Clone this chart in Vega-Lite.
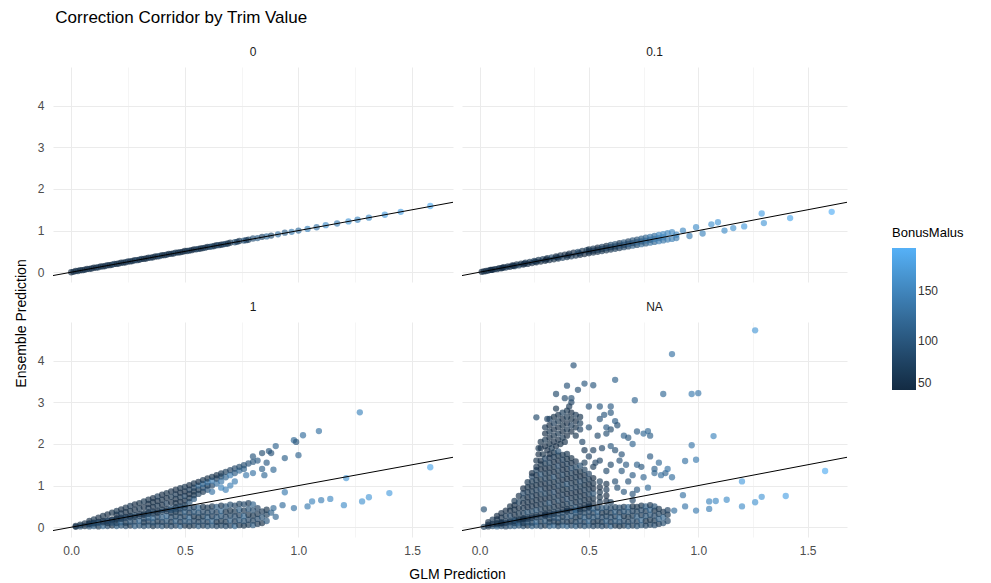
{
"$schema":"https://vega.github.io/schema/vega-lite/v6.json",
"background":"white",
"padding":{"left":14,"top":9,"right":0,"bottom":0},
"title":{"text":"Correction Corridor by Trim Value","anchor":"start","dx":41,"fontSize":17,"fontWeight":"normal","color":"#000000","font":"Liberation Sans","offset":19},
"datasets":{
"line":[{"glm":-0.08,"ens":-0.08},{"glm":1.68,"ens":1.68}],
"t0":[{"glm":0.0,"ens":0.0,"bm":50},{"glm":0.01,"ens":0.01,"bm":55},{"glm":0.02,"ens":0.03,"bm":50},{"glm":0.03,"ens":0.03,"bm":60},{"glm":0.04,"ens":0.05,"bm":52},{"glm":0.05,"ens":0.05,"bm":50},{"glm":0.06,"ens":0.06,"bm":57},{"glm":0.07,"ens":0.08,"bm":50},{"glm":0.08,"ens":0.08,"bm":62},{"glm":0.09,"ens":0.09,"bm":50},{"glm":0.1,"ens":0.11,"bm":54},{"glm":0.11,"ens":0.11,"bm":50},{"glm":0.12,"ens":0.12,"bm":68},{"glm":0.13,"ens":0.14,"bm":50},{"glm":0.14,"ens":0.14,"bm":58},{"glm":0.15,"ens":0.15,"bm":50},{"glm":0.16,"ens":0.17,"bm":64},{"glm":0.17,"ens":0.17,"bm":50},{"glm":0.18,"ens":0.18,"bm":55},{"glm":0.19,"ens":0.2,"bm":72},{"glm":0.2,"ens":0.2,"bm":50},{"glm":0.21,"ens":0.21,"bm":60},{"glm":0.22,"ens":0.23,"bm":50},{"glm":0.23,"ens":0.23,"bm":56},{"glm":0.24,"ens":0.24,"bm":50},{"glm":0.25,"ens":0.26,"bm":66},{"glm":0.26,"ens":0.26,"bm":50},{"glm":0.27,"ens":0.27,"bm":58},{"glm":0.28,"ens":0.29,"bm":50},{"glm":0.29,"ens":0.29,"bm":76},{"glm":0.3,"ens":0.3,"bm":50},{"glm":0.31,"ens":0.32,"bm":62},{"glm":0.32,"ens":0.32,"bm":50},{"glm":0.33,"ens":0.33,"bm":55},{"glm":0.34,"ens":0.35,"bm":50},{"glm":0.35,"ens":0.35,"bm":68},{"glm":0.36,"ens":0.36,"bm":50},{"glm":0.37,"ens":0.38,"bm":57},{"glm":0.38,"ens":0.38,"bm":50},{"glm":0.39,"ens":0.39,"bm":80},{"glm":0.4,"ens":0.41,"bm":52},{"glm":0.41,"ens":0.41,"bm":50},{"glm":0.42,"ens":0.42,"bm":64},{"glm":0.43,"ens":0.44,"bm":50},{"glm":0.44,"ens":0.44,"bm":58},{"glm":0.45,"ens":0.45,"bm":50},{"glm":0.46,"ens":0.47,"bm":70},{"glm":0.47,"ens":0.47,"bm":50},{"glm":0.48,"ens":0.48,"bm":60},{"glm":0.49,"ens":0.49,"bm":50},{"glm":0.5,"ens":0.51,"bm":50},{"glm":0.51,"ens":0.51,"bm":58},{"glm":0.52,"ens":0.52,"bm":66},{"glm":0.53,"ens":0.53,"bm":50},{"glm":0.54,"ens":0.55,"bm":50},{"glm":0.55,"ens":0.55,"bm":62},{"glm":0.56,"ens":0.56,"bm":74},{"glm":0.57,"ens":0.57,"bm":50},{"glm":0.58,"ens":0.58,"bm":55},{"glm":0.59,"ens":0.59,"bm":66},{"glm":0.6,"ens":0.61,"bm":50},{"glm":0.61,"ens":0.61,"bm":70},{"glm":0.62,"ens":0.62,"bm":85},{"glm":0.63,"ens":0.63,"bm":55},{"glm":0.64,"ens":0.65,"bm":60},{"glm":0.65,"ens":0.65,"bm":80},{"glm":0.66,"ens":0.66,"bm":50},{"glm":0.67,"ens":0.67,"bm":65},{"glm":0.68,"ens":0.68,"bm":78},{"glm":0.69,"ens":0.69,"bm":58},{"glm":0.7,"ens":0.71,"bm":56},{"glm":0.72,"ens":0.72,"bm":90},{"glm":0.73,"ens":0.73,"bm":70},{"glm":0.74,"ens":0.75,"bm":62},{"glm":0.76,"ens":0.76,"bm":100},{"glm":0.77,"ens":0.77,"bm":75},{"glm":0.78,"ens":0.78,"bm":70},{"glm":0.8,"ens":0.81,"bm":95},{"glm":0.82,"ens":0.82,"bm":110},{"glm":0.84,"ens":0.85,"bm":80},{"glm":0.86,"ens":0.86,"bm":120},{"glm":0.88,"ens":0.88,"bm":90},{"glm":0.91,"ens":0.91,"bm":130},{"glm":0.94,"ens":0.95,"bm":115},{"glm":0.97,"ens":0.97,"bm":140},{"glm":1.0,"ens":1.0,"bm":125},{"glm":1.04,"ens":1.04,"bm":150},{"glm":1.08,"ens":1.08,"bm":135},{"glm":1.12,"ens":1.13,"bm":160},{"glm":1.17,"ens":1.17,"bm":145},{"glm":1.22,"ens":1.22,"bm":170},{"glm":1.26,"ens":1.26,"bm":155},{"glm":1.31,"ens":1.31,"bm":160},{"glm":1.38,"ens":1.38,"bm":175},{"glm":1.45,"ens":1.45,"bm":180},{"glm":1.58,"ens":1.59,"bm":190}],
"t01":[{"glm":0.01,"ens":0.01,"bm":50},{"glm":0.02,"ens":0.02,"bm":52},{"glm":0.03,"ens":0.03,"bm":50},{"glm":0.04,"ens":0.04,"bm":58},{"glm":0.05,"ens":0.055,"bm":50},{"glm":0.06,"ens":0.057,"bm":55},{"glm":0.07,"ens":0.075,"bm":50},{"glm":0.08,"ens":0.074,"bm":62},{"glm":0.09,"ens":0.098,"bm":50},{"glm":0.1,"ens":0.093,"bm":57},{"glm":0.11,"ens":0.12,"bm":50},{"glm":0.12,"ens":0.111,"bm":66},{"glm":0.13,"ens":0.141,"bm":50},{"glm":0.14,"ens":0.13,"bm":55},{"glm":0.15,"ens":0.163,"bm":50},{"glm":0.16,"ens":0.146,"bm":60},{"glm":0.17,"ens":0.185,"bm":50},{"glm":0.18,"ens":0.164,"bm":70},{"glm":0.19,"ens":0.207,"bm":52},{"glm":0.2,"ens":0.183,"bm":50},{"glm":0.21,"ens":0.228,"bm":64},{"glm":0.22,"ens":0.2,"bm":50},{"glm":0.23,"ens":0.25,"bm":56},{"glm":0.24,"ens":0.219,"bm":50},{"glm":0.25,"ens":0.272,"bm":75},{"glm":0.26,"ens":0.237,"bm":50},{"glm":0.27,"ens":0.293,"bm":58},{"glm":0.28,"ens":0.255,"bm":50},{"glm":0.29,"ens":0.315,"bm":68},{"glm":0.3,"ens":0.273,"bm":50},{"glm":0.31,"ens":0.337,"bm":60},{"glm":0.32,"ens":0.291,"bm":50},{"glm":0.33,"ens":0.358,"bm":80},{"glm":0.34,"ens":0.31,"bm":52},{"glm":0.35,"ens":0.38,"bm":50},{"glm":0.36,"ens":0.328,"bm":62},{"glm":0.37,"ens":0.402,"bm":50},{"glm":0.38,"ens":0.346,"bm":72},{"glm":0.39,"ens":0.424,"bm":50},{"glm":0.4,"ens":0.364,"bm":58},{"glm":0.41,"ens":0.445,"bm":50},{"glm":0.42,"ens":0.382,"bm":66},{"glm":0.43,"ens":0.467,"bm":50},{"glm":0.44,"ens":0.4,"bm":56},{"glm":0.45,"ens":0.489,"bm":85},{"glm":0.46,"ens":0.419,"bm":50},{"glm":0.47,"ens":0.51,"bm":62},{"glm":0.48,"ens":0.437,"bm":50},{"glm":0.49,"ens":0.532,"bm":70},{"glm":0.055,"ens":0.055,"bm":50},{"glm":0.105,"ens":0.105,"bm":50},{"glm":0.155,"ens":0.155,"bm":54},{"glm":0.205,"ens":0.205,"bm":50},{"glm":0.255,"ens":0.255,"bm":58},{"glm":0.305,"ens":0.305,"bm":50},{"glm":0.355,"ens":0.355,"bm":62},{"glm":0.405,"ens":0.405,"bm":50},{"glm":0.455,"ens":0.455,"bm":66},
{"glm":0.5,"ens":0.455,"bm":50},{"glm":0.5,"ens":0.5,"bm":58},{"glm":0.5,"ens":0.545,"bm":52},{"glm":0.52,"ens":0.473,"bm":60},{"glm":0.52,"ens":0.52,"bm":50},{"glm":0.52,"ens":0.567,"bm":66},{"glm":0.54,"ens":0.491,"bm":55},{"glm":0.54,"ens":0.54,"bm":70},{"glm":0.54,"ens":0.589,"bm":50},{"glm":0.56,"ens":0.51,"bm":64},{"glm":0.56,"ens":0.56,"bm":52},{"glm":0.56,"ens":0.61,"bm":75},{"glm":0.58,"ens":0.528,"bm":58},{"glm":0.58,"ens":0.58,"bm":80},{"glm":0.58,"ens":0.632,"bm":55},{"glm":0.6,"ens":0.546,"bm":66},{"glm":0.6,"ens":0.6,"bm":60},{"glm":0.6,"ens":0.654,"bm":85},{"glm":0.62,"ens":0.564,"bm":70},{"glm":0.62,"ens":0.62,"bm":58},{"glm":0.62,"ens":0.676,"bm":90},{"glm":0.64,"ens":0.582,"bm":62},{"glm":0.64,"ens":0.64,"bm":95},{"glm":0.64,"ens":0.698,"bm":66},{"glm":0.66,"ens":0.601,"bm":80},{"glm":0.66,"ens":0.66,"bm":68},{"glm":0.66,"ens":0.719,"bm":100},{"glm":0.68,"ens":0.619,"bm":72},{"glm":0.68,"ens":0.68,"bm":105},{"glm":0.68,"ens":0.741,"bm":75},{"glm":0.7,"ens":0.637,"bm":110},{"glm":0.7,"ens":0.7,"bm":78},{"glm":0.7,"ens":0.763,"bm":95},{"glm":0.72,"ens":0.655,"bm":85},{"glm":0.72,"ens":0.72,"bm":115},{"glm":0.72,"ens":0.785,"bm":90},{"glm":0.74,"ens":0.673,"bm":120},{"glm":0.74,"ens":0.74,"bm":95},{"glm":0.74,"ens":0.807,"bm":110},{"glm":0.76,"ens":0.692,"bm":100},{"glm":0.76,"ens":0.76,"bm":125},{"glm":0.76,"ens":0.828,"bm":115},{"glm":0.78,"ens":0.71,"bm":130},{"glm":0.78,"ens":0.78,"bm":105},{"glm":0.78,"ens":0.85,"bm":135},{"glm":0.8,"ens":0.728,"bm":120},{"glm":0.8,"ens":0.8,"bm":140},{"glm":0.8,"ens":0.872,"bm":125},{"glm":0.82,"ens":0.746,"bm":145},{"glm":0.82,"ens":0.82,"bm":130},{"glm":0.82,"ens":0.894,"bm":150},{"glm":0.84,"ens":0.764,"bm":135},{"glm":0.84,"ens":0.84,"bm":145},{"glm":0.84,"ens":0.916,"bm":155},{"glm":0.86,"ens":0.783,"bm":140},{"glm":0.86,"ens":0.937,"bm":150},{"glm":0.88,"ens":0.8,"bm":145},{"glm":0.88,"ens":0.96,"bm":155},{"glm":0.9,"ens":0.82,"bm":140},{"glm":0.9,"ens":0.9,"bm":150},
{"glm":0.93,"ens":1.0,"bm":155},{"glm":0.96,"ens":0.87,"bm":145},{"glm":0.99,"ens":1.08,"bm":160},{"glm":1.02,"ens":0.93,"bm":150},{"glm":1.06,"ens":1.15,"bm":165},{"glm":1.09,"ens":1.2,"bm":170},{"glm":1.12,"ens":1.0,"bm":160},{"glm":1.16,"ens":1.06,"bm":165},{"glm":1.21,"ens":1.1,"bm":175},{"glm":1.29,"ens":1.41,"bm":180},{"glm":1.3,"ens":1.18,"bm":170},{"glm":1.42,"ens":1.3,"bm":185},{"glm":1.61,"ens":1.45,"bm":192}],
"t1":[{"glm":0.02,"ens":0.03,"bm":50},{"glm":0.04,"ens":0.06,"bm":52},{"glm":0.06,"ens":0.09,"bm":50},{"glm":0.08,"ens":0.09,"bm":55},{"glm":0.08,"ens":0.15,"bm":50},{"glm":0.1,"ens":0.11,"bm":50},{"glm":0.1,"ens":0.19,"bm":58},{"glm":0.12,"ens":0.13,"bm":60},{"glm":0.12,"ens":0.23,"bm":50},{"glm":0.14,"ens":0.15,"bm":50},{"glm":0.14,"ens":0.27,"bm":55},{"glm":0.16,"ens":0.17,"bm":62},{"glm":0.16,"ens":0.31,"bm":50},{"glm":0.18,"ens":0.19,"bm":50},{"glm":0.18,"ens":0.35,"bm":52},{"glm":0.2,"ens":0.21,"bm":55},{"glm":0.2,"ens":0.3,"bm":50},{"glm":0.2,"ens":0.39,"bm":60},{"glm":0.22,"ens":0.23,"bm":50},{"glm":0.22,"ens":0.33,"bm":65},{"glm":0.22,"ens":0.43,"bm":50},{"glm":0.24,"ens":0.25,"bm":58},{"glm":0.24,"ens":0.36,"bm":50},{"glm":0.24,"ens":0.47,"bm":55},{"glm":0.26,"ens":0.27,"bm":50},{"glm":0.26,"ens":0.39,"bm":52},{"glm":0.26,"ens":0.51,"bm":62},{"glm":0.28,"ens":0.29,"bm":70},{"glm":0.28,"ens":0.42,"bm":50},{"glm":0.28,"ens":0.55,"bm":50},{"glm":0.3,"ens":0.32,"bm":50},{"glm":0.3,"ens":0.45,"bm":58},{"glm":0.3,"ens":0.58,"bm":52},{"glm":0.32,"ens":0.34,"bm":55},{"glm":0.32,"ens":0.48,"bm":50},{"glm":0.32,"ens":0.62,"bm":60},{"glm":0.34,"ens":0.36,"bm":50},{"glm":0.34,"ens":0.46,"bm":62},{"glm":0.34,"ens":0.56,"bm":50},{"glm":0.34,"ens":0.66,"bm":55},{"glm":0.36,"ens":0.38,"bm":75},{"glm":0.36,"ens":0.49,"bm":50},{"glm":0.36,"ens":0.6,"bm":52},{"glm":0.36,"ens":0.7,"bm":50},{"glm":0.38,"ens":0.4,"bm":50},{"glm":0.38,"ens":0.52,"bm":58},{"glm":0.38,"ens":0.63,"bm":50},{"glm":0.38,"ens":0.74,"bm":65},{"glm":0.4,"ens":0.42,"bm":60},{"glm":0.4,"ens":0.54,"bm":50},{"glm":0.4,"ens":0.66,"bm":55},{"glm":0.4,"ens":0.78,"bm":50},{"glm":0.42,"ens":0.44,"bm":50},{"glm":0.42,"ens":0.57,"bm":68},{"glm":0.42,"ens":0.7,"bm":50},{"glm":0.42,"ens":0.82,"bm":52},{"glm":0.44,"ens":0.46,"bm":80},{"glm":0.44,"ens":0.6,"bm":50},{"glm":0.44,"ens":0.73,"bm":60},{"glm":0.44,"ens":0.86,"bm":50},{"glm":0.46,"ens":0.48,"bm":50},{"glm":0.46,"ens":0.58,"bm":55},{"glm":0.46,"ens":0.68,"bm":50},{"glm":0.46,"ens":0.79,"bm":62},{"glm":0.46,"ens":0.9,"bm":50},{"glm":0.48,"ens":0.5,"bm":85},{"glm":0.48,"ens":0.61,"bm":50},{"glm":0.48,"ens":0.72,"bm":58},{"glm":0.48,"ens":0.83,"bm":50},{"glm":0.48,"ens":0.94,"bm":55},{"glm":0.5,"ens":0.53,"bm":60},{"glm":0.5,"ens":0.64,"bm":50},{"glm":0.5,"ens":0.75,"bm":72},{"glm":0.5,"ens":0.86,"bm":50},{"glm":0.5,"ens":0.97,"bm":60},{"glm":0.52,"ens":0.6,"bm":90},{"glm":0.52,"ens":0.7,"bm":55},{"glm":0.52,"ens":0.8,"bm":50},{"glm":0.52,"ens":0.9,"bm":66},{"glm":0.52,"ens":1.01,"bm":50},{"glm":0.54,"ens":0.68,"bm":100},{"glm":0.54,"ens":0.77,"bm":60},{"glm":0.54,"ens":0.86,"bm":52},{"glm":0.54,"ens":0.95,"bm":75},{"glm":0.54,"ens":1.05,"bm":55},{"glm":0.56,"ens":0.8,"bm":70},{"glm":0.56,"ens":0.9,"bm":58},{"glm":0.56,"ens":1.0,"bm":110},{"glm":0.56,"ens":1.09,"bm":50},{"glm":0.58,"ens":0.85,"bm":62},{"glm":0.58,"ens":0.95,"bm":80},{"glm":0.58,"ens":1.04,"bm":120},{"glm":0.58,"ens":1.13,"bm":58},{"glm":0.6,"ens":0.9,"bm":95},{"glm":0.6,"ens":1.0,"bm":65},{"glm":0.6,"ens":1.08,"bm":130},{"glm":0.6,"ens":1.17,"bm":52},{"glm":0.62,"ens":1.0,"bm":80},{"glm":0.62,"ens":1.12,"bm":140},{"glm":0.62,"ens":1.21,"bm":60},{"glm":0.64,"ens":1.05,"bm":125},{"glm":0.64,"ens":1.17,"bm":75},{"glm":0.64,"ens":1.25,"bm":55},{"glm":0.66,"ens":1.1,"bm":135},{"glm":0.66,"ens":1.22,"bm":85},{"glm":0.66,"ens":1.29,"bm":62},{"glm":0.68,"ens":1.2,"bm":115},{"glm":0.68,"ens":1.33,"bm":70},{"glm":0.7,"ens":1.25,"bm":140},{"glm":0.7,"ens":1.37,"bm":75},{"glm":0.72,"ens":1.3,"bm":105},{"glm":0.72,"ens":1.41,"bm":80},{"glm":0.74,"ens":1.36,"bm":120},{"glm":0.74,"ens":1.45,"bm":85},{"glm":0.76,"ens":1.4,"bm":110},{"glm":0.76,"ens":1.49,"bm":90},{"glm":0.78,"ens":1.53,"bm":95},{"glm":0.8,"ens":1.57,"bm":100},{"glm":0.82,"ens":1.6,"bm":105},
{"glm":0.8,"ens":1.3,"bm":130},{"glm":0.77,"ens":1.25,"bm":135},{"glm":0.72,"ens":1.1,"bm":140},{"glm":0.7,"ens":1.0,"bm":145},{"glm":0.66,"ens":0.95,"bm":150},{"glm":0.62,"ens":0.85,"bm":130},{"glm":0.68,"ens":0.9,"bm":145},
{"glm":0.84,"ens":1.4,"bm":110},{"glm":0.87,"ens":1.83,"bm":100},{"glm":0.88,"ens":1.78,"bm":95},{"glm":0.89,"ens":1.38,"bm":120},{"glm":0.9,"ens":1.95,"bm":115},{"glm":0.86,"ens":1.55,"bm":105},{"glm":0.85,"ens":1.25,"bm":120},{"glm":0.94,"ens":1.66,"bm":110},{"glm":0.98,"ens":2.09,"bm":120},{"glm":0.99,"ens":2.05,"bm":100},{"glm":1.0,"ens":1.73,"bm":115},{"glm":1.02,"ens":2.21,"bm":125},{"glm":1.09,"ens":2.31,"bm":130},{"glm":1.27,"ens":2.76,"bm":150},{"glm":1.58,"ens":1.44,"bm":185},{"glm":1.21,"ens":1.18,"bm":170},{"glm":0.8,"ens":1.7,"bm":100},{"glm":0.84,"ens":1.78,"bm":90},
{"glm":0.02,"ens":0.01,"bm":60},{"glm":0.04,"ens":0.02,"bm":75},{"glm":0.06,"ens":0.03,"bm":55},{"glm":0.08,"ens":0.02,"bm":90},{"glm":0.08,"ens":0.07,"bm":65},{"glm":0.1,"ens":0.03,"bm":100},{"glm":0.1,"ens":0.09,"bm":70},{"glm":0.12,"ens":0.02,"bm":58},{"glm":0.12,"ens":0.1,"bm":85},{"glm":0.14,"ens":0.03,"bm":110},{"glm":0.14,"ens":0.12,"bm":62},{"glm":0.16,"ens":0.03,"bm":80},{"glm":0.16,"ens":0.1,"bm":60},{"glm":0.16,"ens":0.15,"bm":75},{"glm":0.18,"ens":0.04,"bm":55},{"glm":0.18,"ens":0.11,"bm":90},{"glm":0.18,"ens":0.17,"bm":65},{"glm":0.2,"ens":0.03,"bm":100},{"glm":0.2,"ens":0.1,"bm":70},{"glm":0.2,"ens":0.18,"bm":58},{"glm":0.22,"ens":0.04,"bm":85},{"glm":0.22,"ens":0.12,"bm":110},{"glm":0.22,"ens":0.2,"bm":62},{"glm":0.24,"ens":0.03,"bm":80},{"glm":0.24,"ens":0.11,"bm":60},{"glm":0.24,"ens":0.22,"bm":75},{"glm":0.26,"ens":0.04,"bm":55},{"glm":0.26,"ens":0.13,"bm":90},{"glm":0.26,"ens":0.24,"bm":65},{"glm":0.28,"ens":0.03,"bm":100},{"glm":0.28,"ens":0.14,"bm":70},{"glm":0.28,"ens":0.25,"bm":58},{"glm":0.3,"ens":0.04,"bm":85},{"glm":0.3,"ens":0.15,"bm":110},{"glm":0.3,"ens":0.27,"bm":62},{"glm":0.32,"ens":0.03,"bm":80},{"glm":0.32,"ens":0.12,"bm":60},{"glm":0.32,"ens":0.21,"bm":75},{"glm":0.32,"ens":0.3,"bm":55},{"glm":0.34,"ens":0.04,"bm":90},{"glm":0.34,"ens":0.14,"bm":65},{"glm":0.34,"ens":0.23,"bm":100},{"glm":0.34,"ens":0.32,"bm":70},{"glm":0.36,"ens":0.03,"bm":58},{"glm":0.36,"ens":0.12,"bm":85},{"glm":0.36,"ens":0.22,"bm":110},{"glm":0.36,"ens":0.33,"bm":62},{"glm":0.38,"ens":0.04,"bm":80},{"glm":0.38,"ens":0.14,"bm":60},{"glm":0.38,"ens":0.25,"bm":75},{"glm":0.38,"ens":0.35,"bm":55},{"glm":0.4,"ens":0.03,"bm":90},{"glm":0.4,"ens":0.13,"bm":65},{"glm":0.4,"ens":0.24,"bm":100},{"glm":0.4,"ens":0.37,"bm":70},{"glm":0.42,"ens":0.04,"bm":58},{"glm":0.42,"ens":0.15,"bm":85},{"glm":0.42,"ens":0.27,"bm":110},{"glm":0.42,"ens":0.39,"bm":62},{"glm":0.44,"ens":0.03,"bm":80},{"glm":0.44,"ens":0.13,"bm":60},{"glm":0.44,"ens":0.24,"bm":75},{"glm":0.44,"ens":0.35,"bm":55},{"glm":0.44,"ens":0.41,"bm":90},{"glm":0.46,"ens":0.04,"bm":65},{"glm":0.46,"ens":0.15,"bm":100},{"glm":0.46,"ens":0.26,"bm":70},{"glm":0.46,"ens":0.37,"bm":58},{"glm":0.46,"ens":0.43,"bm":85},{"glm":0.48,"ens":0.03,"bm":110},{"glm":0.48,"ens":0.13,"bm":62},{"glm":0.48,"ens":0.24,"bm":80},{"glm":0.48,"ens":0.35,"bm":60},{"glm":0.48,"ens":0.45,"bm":75},{"glm":0.5,"ens":0.04,"bm":55},{"glm":0.5,"ens":0.15,"bm":90},{"glm":0.5,"ens":0.26,"bm":65},{"glm":0.5,"ens":0.37,"bm":100},{"glm":0.5,"ens":0.47,"bm":70},{"glm":0.52,"ens":0.03,"bm":58},{"glm":0.52,"ens":0.13,"bm":85},{"glm":0.52,"ens":0.24,"bm":110},{"glm":0.52,"ens":0.35,"bm":62},{"glm":0.52,"ens":0.46,"bm":80},{"glm":0.54,"ens":0.04,"bm":60},{"glm":0.54,"ens":0.15,"bm":75},{"glm":0.54,"ens":0.26,"bm":55},{"glm":0.54,"ens":0.37,"bm":90},{"glm":0.54,"ens":0.48,"bm":65},{"glm":0.56,"ens":0.03,"bm":100},{"glm":0.56,"ens":0.13,"bm":70},{"glm":0.56,"ens":0.24,"bm":58},{"glm":0.56,"ens":0.35,"bm":85},{"glm":0.56,"ens":0.47,"bm":110},{"glm":0.58,"ens":0.04,"bm":62},{"glm":0.58,"ens":0.15,"bm":80},{"glm":0.58,"ens":0.26,"bm":60},{"glm":0.58,"ens":0.37,"bm":75},{"glm":0.58,"ens":0.49,"bm":55},{"glm":0.6,"ens":0.03,"bm":90},{"glm":0.6,"ens":0.13,"bm":65},{"glm":0.6,"ens":0.24,"bm":100},{"glm":0.6,"ens":0.35,"bm":70},{"glm":0.6,"ens":0.47,"bm":58},{"glm":0.62,"ens":0.04,"bm":85},{"glm":0.62,"ens":0.15,"bm":110},{"glm":0.62,"ens":0.26,"bm":62},{"glm":0.62,"ens":0.38,"bm":80},{"glm":0.62,"ens":0.5,"bm":60},{"glm":0.64,"ens":0.03,"bm":75},{"glm":0.64,"ens":0.13,"bm":55},{"glm":0.64,"ens":0.24,"bm":90},{"glm":0.64,"ens":0.36,"bm":65},{"glm":0.64,"ens":0.49,"bm":100},{"glm":0.66,"ens":0.04,"bm":70},{"glm":0.66,"ens":0.15,"bm":58},{"glm":0.66,"ens":0.27,"bm":85},{"glm":0.66,"ens":0.39,"bm":110},{"glm":0.66,"ens":0.52,"bm":62},{"glm":0.68,"ens":0.03,"bm":80},{"glm":0.68,"ens":0.13,"bm":60},{"glm":0.68,"ens":0.25,"bm":75},{"glm":0.68,"ens":0.37,"bm":55},{"glm":0.68,"ens":0.5,"bm":90},{"glm":0.7,"ens":0.04,"bm":65},{"glm":0.7,"ens":0.16,"bm":100},{"glm":0.7,"ens":0.28,"bm":70},{"glm":0.7,"ens":0.4,"bm":58},{"glm":0.7,"ens":0.54,"bm":85},{"glm":0.72,"ens":0.03,"bm":110},{"glm":0.72,"ens":0.14,"bm":62},{"glm":0.72,"ens":0.26,"bm":80},{"glm":0.72,"ens":0.38,"bm":60},{"glm":0.72,"ens":0.52,"bm":75},{"glm":0.74,"ens":0.05,"bm":55},{"glm":0.74,"ens":0.17,"bm":90},{"glm":0.74,"ens":0.29,"bm":65},{"glm":0.74,"ens":0.42,"bm":100},{"glm":0.74,"ens":0.56,"bm":70},{"glm":0.76,"ens":0.04,"bm":58},{"glm":0.76,"ens":0.15,"bm":85},{"glm":0.76,"ens":0.27,"bm":110},{"glm":0.76,"ens":0.4,"bm":62},{"glm":0.76,"ens":0.55,"bm":80},{"glm":0.78,"ens":0.06,"bm":60},{"glm":0.78,"ens":0.18,"bm":75},{"glm":0.78,"ens":0.3,"bm":55},{"glm":0.78,"ens":0.44,"bm":90},{"glm":0.78,"ens":0.58,"bm":65},{"glm":0.8,"ens":0.05,"bm":100},{"glm":0.8,"ens":0.16,"bm":70},{"glm":0.8,"ens":0.28,"bm":58},{"glm":0.8,"ens":0.41,"bm":85},{"glm":0.8,"ens":0.55,"bm":110},{"glm":0.82,"ens":0.08,"bm":62},{"glm":0.82,"ens":0.2,"bm":80},{"glm":0.82,"ens":0.32,"bm":60},{"glm":0.82,"ens":0.46,"bm":75},{"glm":0.84,"ens":0.1,"bm":55},{"glm":0.84,"ens":0.24,"bm":90},{"glm":0.84,"ens":0.38,"bm":65},{"glm":0.86,"ens":0.15,"bm":100},{"glm":0.86,"ens":0.3,"bm":70},{"glm":0.86,"ens":0.42,"bm":58},
{"glm":0.89,"ens":0.46,"bm":120},{"glm":0.93,"ens":0.53,"bm":125},{"glm":0.94,"ens":0.84,"bm":140},{"glm":0.98,"ens":0.46,"bm":130},{"glm":1.04,"ens":0.5,"bm":140},{"glm":1.06,"ens":0.62,"bm":150},{"glm":1.1,"ens":0.65,"bm":145},{"glm":1.14,"ens":0.68,"bm":155},{"glm":1.2,"ens":0.53,"bm":160},{"glm":1.28,"ens":0.62,"bm":165},{"glm":1.31,"ens":0.72,"bm":170},{"glm":1.4,"ens":0.82,"bm":175},{"glm":0.88,"ens":0.35,"bm":110},{"glm":0.9,"ens":0.25,"bm":115}],
"tNA":[{"glm":0.02,"ens":0.01,"bm":70},{"glm":0.04,"ens":0.02,"bm":58},{"glm":0.06,"ens":0.03,"bm":85},{"glm":0.08,"ens":0.02,"bm":110},{"glm":0.08,"ens":0.07,"bm":62},{"glm":0.1,"ens":0.03,"bm":80},{"glm":0.1,"ens":0.09,"bm":60},{"glm":0.12,"ens":0.02,"bm":75},{"glm":0.12,"ens":0.1,"bm":55},{"glm":0.14,"ens":0.03,"bm":90},{"glm":0.14,"ens":0.12,"bm":65},{"glm":0.16,"ens":0.03,"bm":100},{"glm":0.16,"ens":0.1,"bm":70},{"glm":0.16,"ens":0.15,"bm":58},{"glm":0.18,"ens":0.04,"bm":85},{"glm":0.18,"ens":0.11,"bm":110},{"glm":0.18,"ens":0.17,"bm":62},{"glm":0.2,"ens":0.03,"bm":80},{"glm":0.2,"ens":0.1,"bm":60},{"glm":0.2,"ens":0.18,"bm":75},{"glm":0.22,"ens":0.04,"bm":55},{"glm":0.22,"ens":0.12,"bm":90},{"glm":0.22,"ens":0.2,"bm":65},{"glm":0.24,"ens":0.03,"bm":100},{"glm":0.24,"ens":0.11,"bm":70},{"glm":0.24,"ens":0.22,"bm":58},{"glm":0.26,"ens":0.04,"bm":85},{"glm":0.26,"ens":0.13,"bm":110},{"glm":0.26,"ens":0.24,"bm":62},{"glm":0.28,"ens":0.03,"bm":80},{"glm":0.28,"ens":0.14,"bm":60},{"glm":0.28,"ens":0.25,"bm":75},{"glm":0.3,"ens":0.04,"bm":55},{"glm":0.3,"ens":0.15,"bm":90},{"glm":0.3,"ens":0.27,"bm":65},{"glm":0.32,"ens":0.03,"bm":100},{"glm":0.32,"ens":0.12,"bm":70},{"glm":0.32,"ens":0.21,"bm":58},{"glm":0.32,"ens":0.3,"bm":85},{"glm":0.34,"ens":0.04,"bm":110},{"glm":0.34,"ens":0.14,"bm":62},{"glm":0.34,"ens":0.23,"bm":80},{"glm":0.34,"ens":0.32,"bm":60},{"glm":0.36,"ens":0.03,"bm":75},{"glm":0.36,"ens":0.12,"bm":55},{"glm":0.36,"ens":0.22,"bm":90},{"glm":0.36,"ens":0.33,"bm":65},{"glm":0.38,"ens":0.04,"bm":100},{"glm":0.38,"ens":0.14,"bm":70},{"glm":0.38,"ens":0.25,"bm":58},{"glm":0.38,"ens":0.35,"bm":85},{"glm":0.4,"ens":0.03,"bm":110},{"glm":0.4,"ens":0.13,"bm":62},{"glm":0.4,"ens":0.24,"bm":80},{"glm":0.4,"ens":0.37,"bm":60},{"glm":0.42,"ens":0.04,"bm":75},{"glm":0.42,"ens":0.15,"bm":55},{"glm":0.42,"ens":0.27,"bm":90},{"glm":0.42,"ens":0.39,"bm":65},{"glm":0.44,"ens":0.03,"bm":100},{"glm":0.44,"ens":0.13,"bm":70},{"glm":0.44,"ens":0.24,"bm":58},{"glm":0.44,"ens":0.35,"bm":85},{"glm":0.44,"ens":0.41,"bm":110},{"glm":0.46,"ens":0.04,"bm":62},{"glm":0.46,"ens":0.15,"bm":80},{"glm":0.46,"ens":0.26,"bm":60},{"glm":0.46,"ens":0.37,"bm":75},{"glm":0.46,"ens":0.43,"bm":55},{"glm":0.48,"ens":0.03,"bm":90},{"glm":0.48,"ens":0.13,"bm":65},{"glm":0.48,"ens":0.24,"bm":100},{"glm":0.48,"ens":0.35,"bm":70},{"glm":0.48,"ens":0.45,"bm":58},{"glm":0.5,"ens":0.04,"bm":85},{"glm":0.5,"ens":0.15,"bm":110},{"glm":0.5,"ens":0.26,"bm":62},{"glm":0.5,"ens":0.37,"bm":80},{"glm":0.5,"ens":0.47,"bm":60},{"glm":0.52,"ens":0.03,"bm":75},{"glm":0.52,"ens":0.13,"bm":55},{"glm":0.52,"ens":0.24,"bm":90},{"glm":0.52,"ens":0.35,"bm":65},{"glm":0.52,"ens":0.45,"bm":100},{"glm":0.54,"ens":0.04,"bm":70},{"glm":0.54,"ens":0.15,"bm":58},{"glm":0.54,"ens":0.26,"bm":85},{"glm":0.54,"ens":0.37,"bm":110},{"glm":0.54,"ens":0.47,"bm":62},{"glm":0.56,"ens":0.03,"bm":80},{"glm":0.56,"ens":0.13,"bm":60},{"glm":0.56,"ens":0.24,"bm":75},{"glm":0.56,"ens":0.35,"bm":55},{"glm":0.56,"ens":0.46,"bm":90},{"glm":0.58,"ens":0.04,"bm":65},{"glm":0.58,"ens":0.15,"bm":100},{"glm":0.58,"ens":0.26,"bm":70},{"glm":0.58,"ens":0.37,"bm":58},{"glm":0.58,"ens":0.48,"bm":85},{"glm":0.6,"ens":0.03,"bm":110},{"glm":0.6,"ens":0.13,"bm":62},{"glm":0.6,"ens":0.24,"bm":80},{"glm":0.6,"ens":0.35,"bm":60},{"glm":0.6,"ens":0.46,"bm":75},{"glm":0.62,"ens":0.04,"bm":55},{"glm":0.62,"ens":0.15,"bm":90},{"glm":0.62,"ens":0.26,"bm":65},{"glm":0.62,"ens":0.37,"bm":100},{"glm":0.62,"ens":0.48,"bm":70},{"glm":0.64,"ens":0.03,"bm":58},{"glm":0.64,"ens":0.13,"bm":85},{"glm":0.64,"ens":0.24,"bm":110},{"glm":0.64,"ens":0.36,"bm":62},{"glm":0.64,"ens":0.47,"bm":80},{"glm":0.66,"ens":0.04,"bm":60},{"glm":0.66,"ens":0.15,"bm":75},{"glm":0.66,"ens":0.27,"bm":55},{"glm":0.66,"ens":0.38,"bm":90},{"glm":0.66,"ens":0.49,"bm":65},{"glm":0.68,"ens":0.03,"bm":100},{"glm":0.68,"ens":0.13,"bm":70},{"glm":0.68,"ens":0.25,"bm":58},{"glm":0.68,"ens":0.37,"bm":85},{"glm":0.68,"ens":0.48,"bm":110},{"glm":0.7,"ens":0.04,"bm":62},{"glm":0.7,"ens":0.16,"bm":80},{"glm":0.7,"ens":0.28,"bm":60},{"glm":0.7,"ens":0.39,"bm":75},{"glm":0.7,"ens":0.5,"bm":55},{"glm":0.72,"ens":0.03,"bm":90},{"glm":0.72,"ens":0.14,"bm":65},{"glm":0.72,"ens":0.26,"bm":100},{"glm":0.72,"ens":0.38,"bm":70},{"glm":0.72,"ens":0.49,"bm":58},{"glm":0.74,"ens":0.05,"bm":85},{"glm":0.74,"ens":0.17,"bm":110},{"glm":0.74,"ens":0.29,"bm":62},{"glm":0.74,"ens":0.41,"bm":80},{"glm":0.74,"ens":0.52,"bm":60},{"glm":0.76,"ens":0.04,"bm":75},{"glm":0.76,"ens":0.15,"bm":55},{"glm":0.76,"ens":0.27,"bm":90},{"glm":0.76,"ens":0.39,"bm":65},{"glm":0.76,"ens":0.5,"bm":100},{"glm":0.78,"ens":0.06,"bm":70},{"glm":0.78,"ens":0.18,"bm":58},{"glm":0.78,"ens":0.3,"bm":85},{"glm":0.78,"ens":0.42,"bm":110},{"glm":0.78,"ens":0.53,"bm":62},{"glm":0.8,"ens":0.05,"bm":80},{"glm":0.8,"ens":0.16,"bm":60},{"glm":0.8,"ens":0.28,"bm":75},{"glm":0.8,"ens":0.4,"bm":55},{"glm":0.8,"ens":0.5,"bm":90},{"glm":0.82,"ens":0.08,"bm":65},{"glm":0.82,"ens":0.2,"bm":100},{"glm":0.82,"ens":0.32,"bm":70},{"glm":0.82,"ens":0.44,"bm":58},{"glm":0.84,"ens":0.1,"bm":85},{"glm":0.84,"ens":0.24,"bm":110},{"glm":0.84,"ens":0.37,"bm":62},{"glm":0.86,"ens":0.15,"bm":80},{"glm":0.86,"ens":0.3,"bm":60},{"glm":0.86,"ens":0.41,"bm":75},
{"glm":0.04,"ens":0.06,"bm":50},{"glm":0.04,"ens":0.12,"bm":55},{"glm":0.06,"ens":0.08,"bm":50},{"glm":0.06,"ens":0.18,"bm":62},{"glm":0.08,"ens":0.1,"bm":52},{"glm":0.08,"ens":0.19,"bm":58},{"glm":0.08,"ens":0.27,"bm":50},{"glm":0.1,"ens":0.12,"bm":70},{"glm":0.1,"ens":0.23,"bm":54},{"glm":0.1,"ens":0.34,"bm":50},{"glm":0.12,"ens":0.14,"bm":65},{"glm":0.12,"ens":0.27,"bm":56},{"glm":0.12,"ens":0.4,"bm":50},{"glm":0.14,"ens":0.16,"bm":60},{"glm":0.14,"ens":0.28,"bm":75},{"glm":0.14,"ens":0.4,"bm":50},{"glm":0.14,"ens":0.5,"bm":52},{"glm":0.16,"ens":0.18,"bm":85},{"glm":0.16,"ens":0.3,"bm":50},{"glm":0.16,"ens":0.42,"bm":55},{"glm":0.16,"ens":0.53,"bm":50},{"glm":0.16,"ens":0.63,"bm":62},{"glm":0.18,"ens":0.2,"bm":52},{"glm":0.18,"ens":0.33,"bm":58},{"glm":0.18,"ens":0.46,"bm":50},{"glm":0.18,"ens":0.6,"bm":70},{"glm":0.18,"ens":0.75,"bm":54},{"glm":0.2,"ens":0.22,"bm":50},{"glm":0.2,"ens":0.34,"bm":65},{"glm":0.2,"ens":0.46,"bm":56},{"glm":0.2,"ens":0.58,"bm":50},{"glm":0.2,"ens":0.7,"bm":60},{"glm":0.2,"ens":0.82,"bm":75},{"glm":0.2,"ens":0.93,"bm":50},{"glm":0.22,"ens":0.24,"bm":52},{"glm":0.22,"ens":0.36,"bm":85},{"glm":0.22,"ens":0.48,"bm":50},{"glm":0.22,"ens":0.6,"bm":55},{"glm":0.22,"ens":0.72,"bm":50},{"glm":0.22,"ens":0.84,"bm":62},{"glm":0.22,"ens":0.96,"bm":52},{"glm":0.22,"ens":1.08,"bm":58},{"glm":0.24,"ens":0.26,"bm":50},{"glm":0.24,"ens":0.38,"bm":70},{"glm":0.24,"ens":0.5,"bm":54},{"glm":0.24,"ens":0.62,"bm":50},{"glm":0.24,"ens":0.74,"bm":65},{"glm":0.24,"ens":0.86,"bm":56},{"glm":0.24,"ens":0.98,"bm":50},{"glm":0.24,"ens":1.1,"bm":60},{"glm":0.24,"ens":1.22,"bm":75},{"glm":0.24,"ens":1.3,"bm":50},{"glm":0.26,"ens":0.29,"bm":52},{"glm":0.26,"ens":0.41,"bm":85},{"glm":0.26,"ens":0.53,"bm":50},{"glm":0.26,"ens":0.65,"bm":55},{"glm":0.26,"ens":0.77,"bm":50},{"glm":0.26,"ens":0.89,"bm":62},{"glm":0.26,"ens":1.01,"bm":52},{"glm":0.26,"ens":1.13,"bm":58},{"glm":0.26,"ens":1.25,"bm":50},{"glm":0.26,"ens":1.37,"bm":70},{"glm":0.26,"ens":1.45,"bm":54},{"glm":0.28,"ens":0.31,"bm":50},{"glm":0.28,"ens":0.43,"bm":65},{"glm":0.28,"ens":0.55,"bm":56},{"glm":0.28,"ens":0.67,"bm":50},{"glm":0.28,"ens":0.79,"bm":60},{"glm":0.28,"ens":0.91,"bm":75},{"glm":0.28,"ens":1.03,"bm":50},{"glm":0.28,"ens":1.15,"bm":52},{"glm":0.28,"ens":1.27,"bm":85},{"glm":0.28,"ens":1.39,"bm":50},{"glm":0.28,"ens":1.51,"bm":55},{"glm":0.28,"ens":1.6,"bm":50},{"glm":0.3,"ens":0.33,"bm":62},{"glm":0.3,"ens":0.45,"bm":52},{"glm":0.3,"ens":0.57,"bm":58},{"glm":0.3,"ens":0.69,"bm":50},{"glm":0.3,"ens":0.81,"bm":70},{"glm":0.3,"ens":0.93,"bm":54},{"glm":0.3,"ens":1.05,"bm":50},{"glm":0.3,"ens":1.17,"bm":65},{"glm":0.3,"ens":1.29,"bm":56},{"glm":0.3,"ens":1.41,"bm":50},{"glm":0.3,"ens":1.53,"bm":60},{"glm":0.3,"ens":1.65,"bm":75},{"glm":0.32,"ens":0.35,"bm":50},{"glm":0.32,"ens":0.47,"bm":52},{"glm":0.32,"ens":0.59,"bm":85},{"glm":0.32,"ens":0.71,"bm":50},{"glm":0.32,"ens":0.83,"bm":55},{"glm":0.32,"ens":0.95,"bm":50},{"glm":0.32,"ens":1.07,"bm":62},{"glm":0.32,"ens":1.19,"bm":52},{"glm":0.32,"ens":1.31,"bm":58},{"glm":0.32,"ens":1.43,"bm":50},{"glm":0.32,"ens":1.55,"bm":70},{"glm":0.32,"ens":1.67,"bm":54},{"glm":0.32,"ens":1.76,"bm":50},{"glm":0.34,"ens":0.37,"bm":65},{"glm":0.34,"ens":0.49,"bm":56},{"glm":0.34,"ens":0.61,"bm":50},{"glm":0.34,"ens":0.73,"bm":60},{"glm":0.34,"ens":0.85,"bm":75},{"glm":0.34,"ens":0.97,"bm":50},{"glm":0.34,"ens":1.09,"bm":52},{"glm":0.34,"ens":1.21,"bm":85},{"glm":0.34,"ens":1.33,"bm":50},{"glm":0.34,"ens":1.45,"bm":55},{"glm":0.34,"ens":1.57,"bm":50},{"glm":0.34,"ens":1.69,"bm":62},{"glm":0.34,"ens":1.8,"bm":52},{"glm":0.36,"ens":0.4,"bm":58},{"glm":0.36,"ens":0.52,"bm":50},{"glm":0.36,"ens":0.64,"bm":70},{"glm":0.36,"ens":0.76,"bm":54},{"glm":0.36,"ens":0.88,"bm":50},{"glm":0.36,"ens":1.0,"bm":65},{"glm":0.36,"ens":1.12,"bm":56},{"glm":0.36,"ens":1.24,"bm":50},{"glm":0.36,"ens":1.36,"bm":60},{"glm":0.36,"ens":1.48,"bm":75},{"glm":0.36,"ens":1.6,"bm":50},{"glm":0.36,"ens":1.72,"bm":52},{"glm":0.36,"ens":1.82,"bm":85},{"glm":0.38,"ens":0.42,"bm":50},{"glm":0.38,"ens":0.54,"bm":55},{"glm":0.38,"ens":0.66,"bm":50},{"glm":0.38,"ens":0.78,"bm":62},{"glm":0.38,"ens":0.9,"bm":52},{"glm":0.38,"ens":1.02,"bm":58},{"glm":0.38,"ens":1.14,"bm":50},{"glm":0.38,"ens":1.26,"bm":70},{"glm":0.38,"ens":1.38,"bm":54},{"glm":0.38,"ens":1.5,"bm":50},{"glm":0.38,"ens":1.62,"bm":65},{"glm":0.38,"ens":1.74,"bm":56},{"glm":0.4,"ens":0.44,"bm":50},{"glm":0.4,"ens":0.56,"bm":60},{"glm":0.4,"ens":0.68,"bm":75},{"glm":0.4,"ens":0.8,"bm":50},{"glm":0.4,"ens":0.92,"bm":52},{"glm":0.4,"ens":1.04,"bm":85},{"glm":0.4,"ens":1.16,"bm":50},{"glm":0.4,"ens":1.28,"bm":55},{"glm":0.4,"ens":1.4,"bm":50},{"glm":0.4,"ens":1.52,"bm":62},{"glm":0.4,"ens":1.64,"bm":52},{"glm":0.4,"ens":1.76,"bm":58},{"glm":0.42,"ens":0.46,"bm":50},{"glm":0.42,"ens":0.58,"bm":70},{"glm":0.42,"ens":0.7,"bm":54},{"glm":0.42,"ens":0.82,"bm":50},{"glm":0.42,"ens":0.94,"bm":65},{"glm":0.42,"ens":1.06,"bm":56},{"glm":0.42,"ens":1.18,"bm":50},{"glm":0.42,"ens":1.3,"bm":60},{"glm":0.42,"ens":1.42,"bm":75},{"glm":0.42,"ens":1.54,"bm":50},{"glm":0.42,"ens":1.66,"bm":52},{"glm":0.44,"ens":0.48,"bm":85},{"glm":0.44,"ens":0.6,"bm":50},{"glm":0.44,"ens":0.72,"bm":55},{"glm":0.44,"ens":0.84,"bm":50},{"glm":0.44,"ens":0.96,"bm":62},{"glm":0.44,"ens":1.08,"bm":52},{"glm":0.44,"ens":1.2,"bm":58},{"glm":0.44,"ens":1.32,"bm":50},{"glm":0.44,"ens":1.44,"bm":70},{"glm":0.44,"ens":1.58,"bm":54},{"glm":0.46,"ens":0.5,"bm":50},{"glm":0.46,"ens":0.62,"bm":65},{"glm":0.46,"ens":0.74,"bm":56},{"glm":0.46,"ens":0.86,"bm":50},{"glm":0.46,"ens":0.98,"bm":60},{"glm":0.46,"ens":1.1,"bm":75},{"glm":0.46,"ens":1.22,"bm":50},{"glm":0.46,"ens":1.34,"bm":52},{"glm":0.46,"ens":1.48,"bm":85},{"glm":0.48,"ens":0.53,"bm":50},{"glm":0.48,"ens":0.65,"bm":55},{"glm":0.48,"ens":0.77,"bm":50},{"glm":0.48,"ens":0.89,"bm":62},{"glm":0.48,"ens":1.01,"bm":52},{"glm":0.48,"ens":1.13,"bm":58},{"glm":0.48,"ens":1.25,"bm":50},{"glm":0.48,"ens":1.38,"bm":70},{"glm":0.5,"ens":0.55,"bm":54},{"glm":0.5,"ens":0.67,"bm":50},{"glm":0.5,"ens":0.79,"bm":65},{"glm":0.5,"ens":0.91,"bm":56},{"glm":0.5,"ens":1.03,"bm":50},{"glm":0.5,"ens":1.15,"bm":60},{"glm":0.5,"ens":1.28,"bm":75},{"glm":0.52,"ens":0.57,"bm":50},{"glm":0.52,"ens":0.69,"bm":52},{"glm":0.52,"ens":0.81,"bm":85},{"glm":0.52,"ens":0.93,"bm":50},{"glm":0.52,"ens":1.05,"bm":55},{"glm":0.52,"ens":1.18,"bm":50},{"glm":0.55,"ens":0.6,"bm":62},{"glm":0.55,"ens":0.72,"bm":52},{"glm":0.55,"ens":0.84,"bm":58},{"glm":0.55,"ens":0.96,"bm":50},{"glm":0.55,"ens":1.1,"bm":70},{"glm":0.58,"ens":0.63,"bm":54},{"glm":0.58,"ens":0.76,"bm":50},{"glm":0.58,"ens":0.9,"bm":65},{"glm":0.58,"ens":1.04,"bm":56},
{"glm":0.28,"ens":1.9,"bm":50},{"glm":0.28,"ens":2.05,"bm":55},{"glm":0.3,"ens":1.95,"bm":50},{"glm":0.3,"ens":2.1,"bm":60},{"glm":0.3,"ens":2.25,"bm":50},{"glm":0.3,"ens":2.4,"bm":62},{"glm":0.32,"ens":2.0,"bm":52},{"glm":0.32,"ens":2.15,"bm":50},{"glm":0.32,"ens":2.3,"bm":58},{"glm":0.32,"ens":2.45,"bm":50},{"glm":0.32,"ens":2.6,"bm":75},{"glm":0.34,"ens":2.05,"bm":50},{"glm":0.34,"ens":2.2,"bm":55},{"glm":0.34,"ens":2.35,"bm":50},{"glm":0.34,"ens":2.5,"bm":65},{"glm":0.34,"ens":2.65,"bm":52},{"glm":0.36,"ens":2.1,"bm":50},{"glm":0.36,"ens":2.25,"bm":58},{"glm":0.36,"ens":2.4,"bm":50},{"glm":0.36,"ens":2.55,"bm":60},{"glm":0.36,"ens":2.7,"bm":55},{"glm":0.38,"ens":2.15,"bm":62},{"glm":0.38,"ens":2.3,"bm":50},{"glm":0.38,"ens":2.45,"bm":52},{"glm":0.38,"ens":2.6,"bm":50},{"glm":0.38,"ens":2.75,"bm":70},{"glm":0.4,"ens":2.2,"bm":50},{"glm":0.4,"ens":2.35,"bm":56},{"glm":0.4,"ens":2.5,"bm":50},{"glm":0.4,"ens":2.65,"bm":58},{"glm":0.4,"ens":2.8,"bm":60},{"glm":0.42,"ens":2.3,"bm":50},{"glm":0.42,"ens":2.45,"bm":65},{"glm":0.42,"ens":2.6,"bm":52},{"glm":0.42,"ens":2.75,"bm":50},{"glm":0.44,"ens":2.4,"bm":55},{"glm":0.44,"ens":2.55,"bm":50},{"glm":0.44,"ens":2.7,"bm":62},{"glm":0.46,"ens":2.5,"bm":70},{"glm":0.46,"ens":2.65,"bm":58},{"glm":0.26,"ens":1.6,"bm":55},{"glm":0.27,"ens":1.75,"bm":50},{"glm":0.27,"ens":1.9,"bm":60},{"glm":0.29,"ens":1.75,"bm":52},{"glm":0.31,"ens":1.85,"bm":50},{"glm":0.33,"ens":1.9,"bm":58},{"glm":0.35,"ens":1.95,"bm":50},{"glm":0.37,"ens":2.0,"bm":52},{"glm":0.39,"ens":2.05,"bm":55},{"glm":0.31,"ens":2.6,"bm":75},{"glm":0.35,"ens":2.85,"bm":60},{"glm":0.42,"ens":3.0,"bm":80},{"glm":0.39,"ens":3.1,"bm":85},{"glm":0.44,"ens":2.2,"bm":58},{"glm":0.41,"ens":2.9,"bm":65},
{"glm":0.47,"ens":2.05,"bm":80},{"glm":0.5,"ens":2.4,"bm":90},{"glm":0.52,"ens":1.85,"bm":75},{"glm":0.55,"ens":2.6,"bm":95},{"glm":0.57,"ens":2.7,"bm":100},{"glm":0.6,"ens":2.35,"bm":85},{"glm":0.62,"ens":2.55,"bm":105},{"glm":0.63,"ens":2.45,"bm":90},{"glm":0.65,"ens":1.75,"bm":95},{"glm":0.66,"ens":2.2,"bm":110},{"glm":0.68,"ens":2.15,"bm":100},{"glm":0.7,"ens":2.0,"bm":115},{"glm":0.72,"ens":2.3,"bm":105},{"glm":0.75,"ens":2.25,"bm":120},{"glm":0.78,"ens":2.2,"bm":110},{"glm":0.55,"ens":1.6,"bm":80},{"glm":0.6,"ens":1.5,"bm":85},{"glm":0.62,"ens":1.85,"bm":90},{"glm":0.65,"ens":1.35,"bm":100},{"glm":0.68,"ens":1.1,"bm":95},{"glm":0.7,"ens":1.25,"bm":105},{"glm":0.72,"ens":1.5,"bm":110},{"glm":0.74,"ens":1.45,"bm":100},{"glm":0.75,"ens":1.2,"bm":115},{"glm":0.77,"ens":0.95,"bm":120},{"glm":0.78,"ens":1.7,"bm":105},{"glm":0.8,"ens":1.3,"bm":115},{"glm":0.8,"ens":1.4,"bm":110},{"glm":0.82,"ens":1.55,"bm":120},{"glm":0.83,"ens":1.25,"bm":125},{"glm":0.85,"ens":1.3,"bm":115},{"glm":0.86,"ens":1.4,"bm":130},{"glm":0.88,"ens":1.2,"bm":125},{"glm":0.62,"ens":1.1,"bm":90},{"glm":0.58,"ens":1.35,"bm":85},{"glm":0.53,"ens":1.55,"bm":80},{"glm":0.5,"ens":1.7,"bm":75},{"glm":0.48,"ens":1.55,"bm":70},{"glm":0.72,"ens":0.9,"bm":105},{"glm":0.7,"ens":0.8,"bm":95},{"glm":0.66,"ens":0.85,"bm":100},{"glm":0.63,"ens":0.95,"bm":90},{"glm":0.5,"ens":2.9,"bm":95},{"glm":0.54,"ens":2.2,"bm":85},{"glm":0.58,"ens":2.25,"bm":90},{"glm":0.46,"ens":2.35,"bm":75},{"glm":0.48,"ens":1.85,"bm":65},{"glm":0.52,"ens":1.45,"bm":70},{"glm":0.56,"ens":1.9,"bm":80},{"glm":0.6,"ens":1.95,"bm":100},{"glm":0.64,"ens":1.6,"bm":95},{"glm":0.67,"ens":1.5,"bm":105},{"glm":0.55,"ens":2.9,"bm":100},{"glm":0.58,"ens":2.4,"bm":105},{"glm":0.6,"ens":2.75,"bm":100},
{"glm":1.26,"ens":4.73,"bm":170},{"glm":0.88,"ens":4.16,"bm":130},{"glm":0.43,"ens":3.89,"bm":95},{"glm":0.62,"ens":3.54,"bm":110},{"glm":0.52,"ens":3.41,"bm":100},{"glm":0.84,"ens":3.2,"bm":120},{"glm":0.97,"ens":3.2,"bm":140},{"glm":1.0,"ens":3.22,"bm":135},{"glm":0.71,"ens":3.05,"bm":115},{"glm":0.42,"ens":3.1,"bm":90},{"glm":0.6,"ens":2.9,"bm":105},{"glm":0.26,"ens":2.64,"bm":85},{"glm":1.07,"ens":2.19,"bm":150},{"glm":0.97,"ens":1.97,"bm":135},{"glm":0.77,"ens":2.31,"bm":120},{"glm":0.94,"ens":1.59,"bm":130},{"glm":0.99,"ens":1.62,"bm":140},{"glm":1.58,"ens":1.35,"bm":190},{"glm":1.2,"ens":1.1,"bm":175},{"glm":0.93,"ens":0.77,"bm":130},{"glm":1.4,"ens":0.75,"bm":180},{"glm":1.29,"ens":0.73,"bm":170},{"glm":1.26,"ens":0.6,"bm":165},{"glm":1.2,"ens":0.5,"bm":160},{"glm":1.13,"ens":0.66,"bm":160},{"glm":1.05,"ens":0.62,"bm":150},{"glm":1.08,"ens":0.63,"bm":155},{"glm":1.05,"ens":0.44,"bm":145},{"glm":0.99,"ens":0.4,"bm":140},{"glm":0.94,"ens":0.5,"bm":135},{"glm":0.89,"ens":0.4,"bm":125},{"glm":0.02,"ens":0.43,"bm":90},{"glm":0.48,"ens":3.45,"bm":100},{"glm":0.45,"ens":3.3,"bm":90},{"glm":0.35,"ens":3.2,"bm":85},{"glm":0.4,"ens":3.4,"bm":95},{"glm":0.1,"ens":0.1,"bm":50},{"glm":0.2,"ens":0.2,"bm":55},{"glm":0.3,"ens":0.3,"bm":50},{"glm":0.4,"ens":0.4,"bm":60},{"glm":0.5,"ens":0.5,"bm":55},{"glm":0.6,"ens":0.6,"bm":70},{"glm":0.7,"ens":0.65,"bm":80}]
},
"columns":2,
"bounds":"flush",
"spacing":{"row":40,"column":9},
"concat":[
{"width":400,"height":215,"title":{"text":"0","frame":"group"},"layer":[
 {"data":{"name":"t0"},"mark":{"type":"circle","size":40,"fillOpacity":0.66},"encoding":{
  "x":{"field":"glm","type":"quantitative","scale":{"domain":[-0.08,1.68],"nice":false,"zero":false},"axis":{"values":[0,0.25,0.5,0.75,1,1.25,1.5],"labels":false,"title":null,"gridWidth":{"condition":{"test":"(datum.value*2)%1==0","value":1},"value":0.5}}},
  "y":{"field":"ens","type":"quantitative","scale":{"domain":[-0.235,4.93],"nice":false,"zero":false},"axis":{"values":[0,0.5,1,1.5,2,2.5,3,3.5,4,4.5],"labelExpr":"datum.value % 1 == 0 ? format(datum.value,'d') : ''","title":"Ensemble Prediction","titleY":256,"gridWidth":{"condition":{"test":"datum.value%1==0","value":1},"value":0.5}}},
  "color":{"field":"bm","type":"quantitative","title":"BonusMalus","scale":{"domain":[50,194],"range":["#132B43","#56B1F7"],"interpolate":"lab"},"legend":{"values":[50,100,150],"orient":"none","legendX":839,"legendY":160}}}},
 {"data":{"name":"line"},"mark":{"type":"line","color":"#000000","strokeWidth":1,"clip":true},"encoding":{"x":{"field":"glm","type":"quantitative"},"y":{"field":"ens","type":"quantitative"}}}]},
{"width":385,"height":215,"title":{"text":"0.1","frame":"group"},"layer":[
 {"data":{"name":"t01"},"mark":{"type":"circle","size":40,"fillOpacity":0.66},"encoding":{
  "x":{"field":"glm","type":"quantitative","scale":{"domain":[-0.08,1.68],"nice":false,"zero":false},"axis":{"values":[0,0.25,0.5,0.75,1,1.25,1.5],"labels":false,"title":null,"gridWidth":{"condition":{"test":"(datum.value*2)%1==0","value":1},"value":0.5}}},
  "y":{"field":"ens","type":"quantitative","scale":{"domain":[-0.235,4.93],"nice":false,"zero":false},"axis":{"values":[0,0.5,1,1.5,2,2.5,3,3.5,4,4.5],"labels":false,"title":null,"gridWidth":{"condition":{"test":"datum.value%1==0","value":1},"value":0.5}}},
  "color":{"field":"bm","type":"quantitative","title":"BonusMalus","scale":{"domain":[50,194],"range":["#132B43","#56B1F7"],"interpolate":"lab"},"legend":{"values":[50,100,150],"orient":"none","legendX":839,"legendY":160}}}},
 {"data":{"name":"line"},"mark":{"type":"line","color":"#000000","strokeWidth":1,"clip":true},"encoding":{"x":{"field":"glm","type":"quantitative"},"y":{"field":"ens","type":"quantitative"}}}]},
{"width":400,"height":215,"title":{"text":"1","frame":"group"},"layer":[
 {"data":{"name":"t1"},"mark":{"type":"circle","size":40,"fillOpacity":0.66},"encoding":{
  "x":{"field":"glm","type":"quantitative","scale":{"domain":[-0.08,1.68],"nice":false,"zero":false},"axis":{"values":[0,0.25,0.5,0.75,1,1.25,1.5],"labelExpr":"(datum.value*2)%1==0 ? format(datum.value,'.1f') : ''","title":"GLM Prediction","titleX":404,"gridWidth":{"condition":{"test":"(datum.value*2)%1==0","value":1},"value":0.5}}},
  "y":{"field":"ens","type":"quantitative","scale":{"domain":[-0.235,4.93],"nice":false,"zero":false},"axis":{"values":[0,0.5,1,1.5,2,2.5,3,3.5,4,4.5],"labelExpr":"datum.value % 1 == 0 ? format(datum.value,'d') : ''","title":null,"gridWidth":{"condition":{"test":"datum.value%1==0","value":1},"value":0.5}}},
  "color":{"field":"bm","type":"quantitative","title":"BonusMalus","scale":{"domain":[50,194],"range":["#132B43","#56B1F7"],"interpolate":"lab"},"legend":{"values":[50,100,150],"orient":"none","legendX":839,"legendY":160}}}},
 {"data":{"name":"line"},"mark":{"type":"line","color":"#000000","strokeWidth":1,"clip":true},"encoding":{"x":{"field":"glm","type":"quantitative"},"y":{"field":"ens","type":"quantitative"}}}]},
{"width":385,"height":215,"title":{"text":"NA","frame":"group"},"layer":[
 {"data":{"name":"tNA"},"mark":{"type":"circle","size":40,"fillOpacity":0.66},"encoding":{
  "x":{"field":"glm","type":"quantitative","scale":{"domain":[-0.08,1.68],"nice":false,"zero":false},"axis":{"values":[0,0.25,0.5,0.75,1,1.25,1.5],"labelExpr":"(datum.value*2)%1==0 ? format(datum.value,'.1f') : ''","title":null,"gridWidth":{"condition":{"test":"(datum.value*2)%1==0","value":1},"value":0.5}}},
  "y":{"field":"ens","type":"quantitative","scale":{"domain":[-0.235,4.93],"nice":false,"zero":false},"axis":{"values":[0,0.5,1,1.5,2,2.5,3,3.5,4,4.5],"labels":false,"title":null,"gridWidth":{"condition":{"test":"datum.value%1==0","value":1},"value":0.5}}},
  "color":{"field":"bm","type":"quantitative","title":"BonusMalus","scale":{"domain":[50,194],"range":["#132B43","#56B1F7"],"interpolate":"lab"},"legend":{"values":[50,100,150],"orient":"none","legendX":839,"legendY":160}}}},
 {"data":{"name":"line"},"mark":{"type":"line","color":"#000000","strokeWidth":1,"clip":true},"encoding":{"x":{"field":"glm","type":"quantitative"},"y":{"field":"ens","type":"quantitative"}}}]}
],
"resolve":{"scale":{"color":"shared"}},
"config":{
 "view":{"stroke":null},
 "font":"Liberation Sans",
 "axis":{"domain":false,"ticks":false,"gridColor":"#EBEBEB","labelColor":"#4D4D4D","labelFontSize":12,"titleFontSize":14,"titleFontWeight":"normal","titleColor":"#000000","labelOverlap":false},
 "axisX":{"labelPadding":8,"titlePadding":11},
 "axisY":{"labelPadding":9,"titlePadding":9},
 "title":{"fontSize":12,"fontWeight":"normal","color":"#1A1A1A","offset":8},
 "legend":{"titleFontSize":13,"titleFontWeight":"normal","titleColor":"#000000","titlePadding":8,"labelFontSize":12,"labelColor":"#333333","gradientLength":142,"gradientThickness":24}
}
}
